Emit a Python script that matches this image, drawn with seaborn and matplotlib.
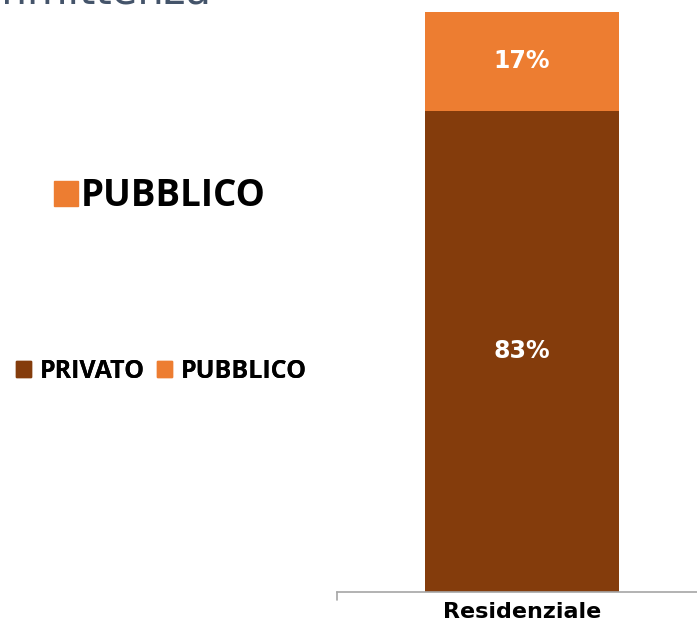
import matplotlib
matplotlib.use("Agg")
import matplotlib.pyplot as plt
import matplotlib.patches as mpatches
import seaborn as sns
import pandas as pd

# data
categories = ["Residenziale"]
privato = [0.83]
pubblico = [0.17]
series_names = ["PRIVATO", "PUBBLICO"]
colors = {"PRIVATO": "#843C0C", "PUBBLICO": "#ED7D31"}

df = pd.DataFrame({"tipo": categories, "PRIVATO": privato, "PUBBLICO": pubblico})
df["totale"] = df["PRIVATO"] + df["PUBBLICO"]

sns.set_style("white")
plt.rcParams["font.family"] = ["DejaVu Sans"]
plt.rcParams["text.color"] = "black"
plt.rcParams["xtick.color"] = "black"

fig = plt.figure(figsize=(6.97, 6.25), dpi=100)
ax = fig.add_axes([0.4835, 0.0528, 0.531, 0.928])

# stacked bar: full height in orange, then privato part on top in brown
sns.barplot(data=df, x="tipo", y="totale", color=colors["PUBBLICO"], width=0.525,
            saturation=1, linewidth=0, ax=ax)
sns.barplot(data=df, x="tipo", y="PRIVATO", color=colors["PRIVATO"], width=0.525,
            saturation=1, linewidth=0, ax=ax)

for i, row in df.iterrows():
    ax.text(i, row["PRIVATO"] / 2, f"{row['PRIVATO']:.0%}", ha="center", va="center",
            color="white", fontsize=17, fontweight="bold")
    ax.text(i, row["PRIVATO"] + row["PUBBLICO"] / 2, f"{row['PUBBLICO']:.0%}",
            ha="center", va="center", color="white", fontsize=17, fontweight="bold")

ax.set_ylim(0, 1)
ax.set_xlim(-0.5, 0.5)
ax.set_xlabel("")
ax.set_ylabel("")
ax.set_yticks([])
ax.set_xticks([-0.5, 0])
ax.set_xticklabels(["", categories[0]], fontsize=16, fontweight="bold", color="black")
ax.tick_params(axis="x", length=0, pad=7)
for s in ["top", "right", "left"]:
    ax.spines[s].set_visible(False)
ax.spines["bottom"].set_color("#A6A6A6")
ax.spines["bottom"].set_linewidth(1.2)
ax.plot([-0.5, -0.5], [0, -0.014], color="#A6A6A6", lw=1.2, clip_on=False)

# legends
handles = [mpatches.Patch(color=colors[n], label=n) for n in series_names]
leg_small = fig.legend(handles=handles, loc="center left", bbox_to_anchor=(0.005, 0.406),
                       ncol=2, frameon=False, borderpad=0, handlelength=0.6,
                       handleheight=0.6, handletextpad=0.35, columnspacing=0.5,
                       labelcolor="black",
                       prop={"family": "Open Sans", "weight": "bold", "size": 18})
fig.legend(handles=[handles[1]], loc="center left", bbox_to_anchor=(0.051, 0.686),
           frameon=False, borderpad=0, handlelength=0.65, handleheight=0.65,
           handletextpad=0.08, labelcolor="black",
           prop={"family": "Open Sans", "weight": "bold", "size": 26.5})
fig.add_artist(leg_small)

# title cut off at the top of the slide
fig.text(212 / 697, 1 - 4 / 625, "Committenza", ha="right", va="baseline",
         color="#44546A", fontsize=30)

fig.savefig("out.png", dpi=100)
